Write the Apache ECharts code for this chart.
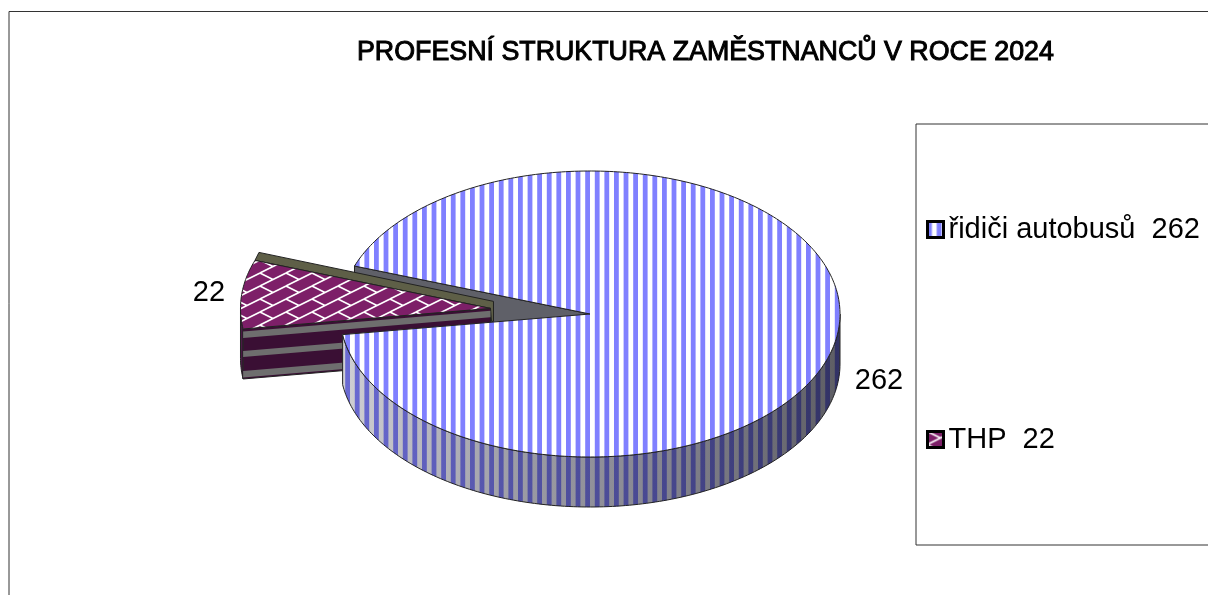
<!DOCTYPE html>
<html lang="cs">
  <head>
    <meta charset="UTF-8" />
    <title>Profesní struktura zaměstnanců</title>
    <script src="https://cdnjs.cloudflare.com/ajax/libs/echarts/6.0.0/echarts.min.js"></script>
    <style>
      html, body { margin: 0; padding: 0; background: #fff; }
      #chart { width: 1208px; height: 595px; }
    </style>
  </head>
  <body>
    <div id="chart"></div>
    <script type="text/javascript">
      const categories = ["řidiči autobusů", "THP"];
      const values = [262, 22];
      const titleText = "PROFESNÍ STRUKTURA ZAMĚSTNANCŮ V ROCE 2024";

      const total = values[0] + values[1];
      const fontFamily = '"Liberation Sans", Arial, sans-serif';
      // pie geometry
      const cx = 590, cy = 314, rx = 250, ry = 143, depth = 50;
      const startAngle = 199.6; // first slice start, degrees, y down
      const explode = 0.4;
      const labelPos = [[879, 381], [209, 293]];

      // vertical stripes
      const stripes = (() => {
        const c = document.createElement("canvas");
        c.width = 48; c.height = 4;
        const ctx = c.getContext("2d");
        ctx.fillStyle = "#fff";
        ctx.fillRect(0, 0, 48, 4);
        ctx.fillStyle = "#8080ff";
        for (let k = 0; k < 6; k++) ctx.fillRect(k * 9.6 - 0.4, 0, 4.8, 4);
        return { image: c, repeat: "repeat" };
      })();
      // shingle pattern of the THP slice
      const shingle = (() => {
        const c = document.createElement("canvas");
        c.width = 26; c.height = 13;
        const ctx = c.getContext("2d");
        ctx.fillStyle = "#7d1f68";
        ctx.fillRect(0, 0, 26, 13);
        ctx.strokeStyle = "#fff";
        ctx.lineWidth = 1.6;
        for (let i = -1; i <= 1; i++) {
          for (let j = -1; j <= 1; j++) {
            const ox = i * 26, oy = j * 13;
            ctx.beginPath();
            ctx.moveTo(ox, oy + 13); ctx.lineTo(ox + 26, oy);
            // short cross piece
            ctx.moveTo(ox, oy); ctx.lineTo(ox + 13, oy + 6.5);
            ctx.stroke();
          }
        }
        return { image: c, repeat: "repeat" };
      })();

      const rad = (d) => (d * Math.PI) / 180;
      const pt = (a, ox, oy, dz) => [
        ox + rx * Math.cos(rad(a)),
        oy + ry * Math.sin(rad(a)) + (dz || 0),
      ];
      const arc = (a0, a1, ox, oy, dz) => {
        const out = [];
        const n = Math.max(2, Math.ceil(Math.abs(a1 - a0)));
        for (let i = 0; i <= n; i++) out.push(pt(a0 + ((a1 - a0) * i) / n, ox, oy, dz));
        return out;
      };
      const poly = (points, fill, z2, stroke) => ({
        type: "polygon",
        z2: z2,
        silent: true,
        shape: { points: points },
        style: { fill: fill, stroke: stroke === undefined ? "#222" : stroke, lineWidth: 1 },
      });
      const label = (text, pos) => ({
        type: "text",
        z2: 40,
        silent: true,
        x: pos[0],
        y: pos[1],
        style: {
          text: String(text),
          fontSize: 29,
          fontFamily: fontFamily,
          fill: "#000",
          align: "center",
          verticalAlign: "middle",
        },
      });
      const shade = () =>
        new echarts.graphic.LinearGradient(0, 0, 1, 0, [
          { offset: 0, color: "rgba(20,20,40,0.2)" },
          { offset: 0.35, color: "rgba(20,20,40,0.42)" },
          { offset: 0.6, color: "rgba(20,20,40,0.5)" },
          { offset: 1, color: "rgba(10,10,20,0.66)" },
        ]);

      // big slice: back cut wall, front side, top face
      const renderBig = (params, api) => {
        const sweep = (api.value(0) / total) * 360;
        const a0 = startAngle, a1 = startAngle + sweep;
        const u = pt(a0, cx, cy);
        const sideStart = 360, sideEnd = Math.min(a1, 540);
        const sidePts = arc(sideStart, sideEnd, cx, cy).concat(arc(sideEnd, sideStart, cx, cy, depth));
        const top = [[cx, cy]].concat(arc(a0, a1, cx, cy));
        return {
          type: "group",
          children: [
            poly([u, [cx, cy], [cx, cy + depth], [u[0], u[1] + depth]], "#5f6068", 1),
            poly(sidePts, stripes, 20, "none"),
            poly(sidePts, shade(), 21),
            poly(top, stripes, 22),
            label(api.value(0), labelPos[0]),
          ],
        };
      };

      // exploded slice: cut wall with grey bands, strip behind, top face
      const renderThp = (params, api) => {
        const sweep = (api.value(0) / total) * 360;
        const a1 = startAngle + 360, a0 = a1 - sweep;
        const mid = (a0 + a1) / 2;
        const ox = cx + explode * rx * Math.cos(rad(mid));
        const oy = cy + explode * ry * Math.sin(rad(mid));
        const A = [ox, oy];
        const U = pt(a1, ox, oy), L = pt(a0, ox, oy);
        const band = (f0, f1) =>
          poly(
            [[A[0], A[1] + depth * f0], [L[0], L[1] + depth * f0], [L[0], L[1] + depth * f1], [A[0], A[1] + depth * f1]],
            "#6e6e6e", 7, "none"
          );
        return {
          type: "group",
          children: [
            poly(
              [[U[0] + 4, U[1] - 8], [A[0] + 3, A[1] - 7], [A[0] + 3, A[1] + 13], [A[0] + 1, A[1] + 13], A, U],
              "#5e5f47", 4
            ),
            poly(arc(a0, 540, ox, oy).concat(arc(540, a0, ox, oy, depth)), "#4a1a45", 5),
            poly([A, L, [L[0], L[1] + depth], [A[0], A[1] + depth]], "#3a0f34", 6),
            band(0.05, 0.18),
            band(0.44, 0.56),
            band(0.84, 0.97),
            poly([A].concat(arc(a0, a1, ox, oy)), shingle, 8),
            label(api.value(0), labelPos[1]),
          ],
        };
      };

      const myChart = echarts.init(document.getElementById("chart"));
      myChart.setOption({
        animation: false,
        backgroundColor: "#fff",
        title: {
          text: titleText,
          left: 357,
          top: 39,
          padding: 0,
          textStyle: {
            fontFamily: fontFamily,
            fontSize: 26.8,
            fontWeight: "normal",
            color: "#000",
            textBorderColor: "#000",
            textBorderWidth: 1,
          },
        },
        legend: {
          orient: "vertical",
          left: 916,
          top: 124,
          padding: [91, 9, 91, 10],
          itemGap: 181,
          itemWidth: 16,
          itemHeight: 16,
          icon: "rect",
          borderColor: "#333",
          borderWidth: 1,
          selectedMode: false,
          textStyle: { fontFamily: fontFamily, fontSize: 29, color: "#000" },
          formatter: (name) => name + "  " + values[categories.indexOf(name)],
          data: [
            { name: categories[0], itemStyle: { color: stripes, borderColor: "#000", borderWidth: 3 } },
            { name: categories[1], itemStyle: { color: shingle, borderColor: "#000", borderWidth: 3 } },
          ],
        },
        graphic: [
          {
            type: "rect",
            silent: true,
            z: -1,
            shape: { x: 9, y: 11.5, width: 1300, height: 700 },
            style: { fill: "none", stroke: "#333", lineWidth: 1 },
          },
        ],
        series: [
          {
            name: categories[0],
            type: "custom",
            coordinateSystem: "none",
            renderItem: renderBig,
            data: [[values[0]]],
          },
          {
            name: categories[1],
            type: "custom",
            coordinateSystem: "none",
            renderItem: renderThp,
            data: [[values[1]]],
          },
        ],
      });
    </script>
  </body>
</html>
